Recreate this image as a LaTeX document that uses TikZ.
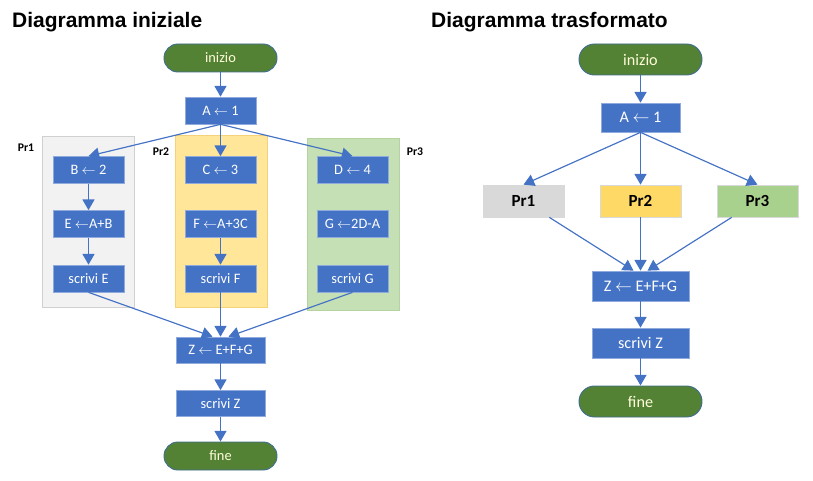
\documentclass[tikz,border=0pt]{standalone}
\usepackage{fontspec}
\setmainfont{Carlito}
\newfontfamily\titlefont{Liberation Sans}
\usetikzlibrary{arrows.meta, positioning, calc}

\definecolor{procblue}{HTML}{4472C4}
\definecolor{procedge}{HTML}{8FAADC}
\definecolor{termgreen}{HTML}{548235}
\definecolor{termedge}{HTML}{3F6E8F}
\definecolor{linkblue}{HTML}{4472C4}
\definecolor{prgreyback}{HTML}{F2F2F2}
\definecolor{prgreyedge}{HTML}{D0D0D0}
\definecolor{pryellowback}{HTML}{FFE699}
\definecolor{pryellowedge}{HTML}{F4D27A}
\definecolor{prgreenback}{HTML}{C5E0B4}
\definecolor{prgreenedge}{HTML}{B4D3A0}
\definecolor{prgrey}{HTML}{D9D9D9}
\definecolor{pryellow}{HTML}{FFD966}
\definecolor{prgreen}{HTML}{A9D18E}

\begin{document}
\begin{tikzpicture}[
  x=0.03cm, y=-0.03cm,
  proc/.style={rectangle, draw=procedge, line width=0.6pt, fill=procblue,
               text=white, inner sep=0pt, minimum width=2.13cm,
               minimum height=0.81cm, font=\fontsize{12.3}{14}\selectfont},
  bigproc/.style={proc, minimum width=2.67cm, minimum height=0.78cm},
  term/.style={rectangle, draw=termedge, line width=0.8pt, fill=termgreen,
               text=white!85!yellow, inner sep=0pt, minimum width=3.39cm,
               minimum height=0.84cm, rounded corners=0.42cm,
               font=\fontsize{12.3}{14}\selectfont},
  bigterm/.style={term, minimum width=3.69cm, minimum height=0.93cm,
                  rounded corners=0.465cm, font=\fontsize{13.8}{16}\selectfont},
  prback/.style={rectangle, line width=0.6pt, minimum width=2.76cm,
                 minimum height=5.15cm},
  prlbl/.style={font=\bfseries\fontsize{10}{12}\selectfont},
  prbox/.style={rectangle, draw=white!85!black, line width=0.6pt,
                minimum width=2.43cm, minimum height=0.96cm, inner sep=0pt,
                font=\bfseries\fontsize{14.5}{17}\selectfont},
  title/.style={anchor=base west, inner sep=0pt,
                font=\titlefont\bfseries\fontsize{17.9}{21}\selectfont},
  arr/.style={-{Triangle[width=0.36cm,length=0.32cm]}, draw=linkblue,
              line width=1pt}
]
\useasboundingbox (0,0) rectangle (813,481);

%% --- Diagramma iniziale (left) ---
\node[title] (tleft) at (12,28) {Diagramma iniziale};

\node[prback, draw=prgreyedge, fill=prgreyback]     (bg1) at (88,222)  {};
\node[prback, draw=pryellowedge, fill=pryellowback] (bg2) at (221,221.5) {};
\node[prback, draw=prgreenedge, fill=prgreenback]   (bg3) at (353,224.5) {};
\node[prlbl] (lpr1) at (26,148) {Pr1};
\node[prlbl] (lpr2) at (161,152) {Pr2};
\node[prlbl] (lpr3) at (415,152) {Pr3};

\node[term] (ini1) at (220.5,58) {inizio};
\node[proc] (a1)   at (220.5,110.5) {A $\leftarrow$ 1};

\node[proc] (b1) at (88.5,170)  {B $\leftarrow$ 2};
\node[proc] (c1) at (220.5,170) {C $\leftarrow$ 3};
\node[proc] (d1) at (352.5,170) {D $\leftarrow$ 4};

\node[proc] (e1) at (88.5,224)  {E $\leftarrow$A+B};
\node[proc] (f1) at (220.5,224) {F $\leftarrow$A+3C};
\node[proc] (g1) at (352.5,224) {G $\leftarrow$2D-A};

\node[proc] (se1) at (88.5,278.5)  {scrivi E};
\node[proc] (sf1) at (220.5,278.5) {scrivi F};
\node[proc] (sg1) at (352.5,278.5) {scrivi G};

\node[bigproc] (z1)   at (220.5,350)   {Z $\leftarrow$ E+F+G};
\node[bigproc] (sz1)  at (220.5,403.5) {scrivi Z};
\node[term]    (fin1) at (220.5,456)   {fine};

\draw[arr] (ini1) -- (a1);
\draw[arr] (a1.south) -- (b1.north);
\draw[arr] (a1) -- (c1);
\draw[arr] (a1.south) -- (d1.north);
\draw[arr] (b1) -- (e1);
\draw[arr] (e1) -- (se1);
\draw[arr] (f1) -- (sf1);
\draw[arr] (se1.south) -- ($(z1.north)+(-8,0)$);
\draw[arr] (sf1) -- (z1);
\draw[arr] (sg1.south) -- ($(z1.north)+(8,0)$);
\draw[arr] (z1) -- (sz1);
\draw[arr] (sz1) -- (fin1);

%% --- Diagramma trasformato (right) ---
\node[title] (tright) at (431,28) {Diagramma trasformato};

\node[bigterm] (ini2) at (640.5,59.5) {inizio};
\node[proc, minimum width=2.37cm, minimum height=0.87cm,
      font=\fontsize{13.8}{16}\selectfont] (a2) at (640.5,117.5) {A $\leftarrow$ 1};

\node[prbox, fill=prgrey]   (p1) at (523.5,201) {Pr1};
\node[prbox, fill=pryellow] (p2) at (640.5,201) {Pr2};
\node[prbox, fill=prgreen]  (p3) at (757.5,201) {Pr3};

\node[bigproc, minimum width=2.91cm, minimum height=0.9cm,
      font=\fontsize{13.8}{16}\selectfont] (z2)  at (640.5,286) {Z $\leftarrow$ E+F+G};
\node[bigproc, minimum width=2.91cm, minimum height=0.9cm,
      font=\fontsize{13.8}{16}\selectfont] (sz2) at (640.5,343) {scrivi Z};
\node[bigterm] (fin2) at (640.5,401.5) {fine};

\draw[arr] (ini2) -- (a2);
\draw[arr] (a2.south) -- (p1.north);
\draw[arr] (a2) -- (p2);
\draw[arr] (a2.south) -- (p3.north);
\draw[arr] (p1) -- ($(z2.north)+(-7,0)$);
\draw[arr] (p2) -- (z2);
\draw[arr] (p3) -- ($(z2.north)+(7,0)$);
\draw[arr] (z2) -- (sz2);
\draw[arr] (sz2) -- (fin2);

\end{tikzpicture}
\end{document}
